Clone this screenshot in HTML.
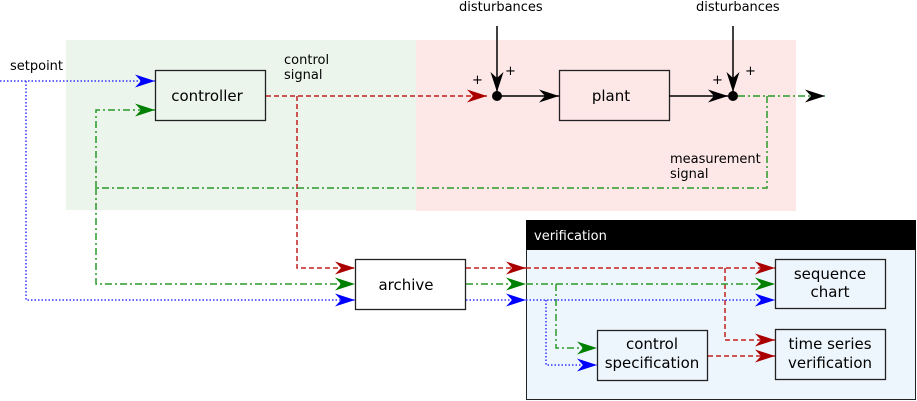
<!DOCTYPE html>
<html><head><meta charset="utf-8"><style>
html,body{margin:0;padding:0;background:#fff;}
svg{display:block;}
text{font-family:"DejaVu Sans","Liberation Sans",sans-serif;}
</style></head><body>
<svg width="917" height="401" viewBox="0 0 917 401" xmlns="http://www.w3.org/2000/svg">
<defs>
<marker id="ak" markerWidth="20" markerHeight="14" refX="20" refY="7" orient="auto" markerUnits="userSpaceOnUse"><path d="M20,7 L0,0.5 L6,7 L0,13.5 Z" fill="#000"/></marker>
<marker id="ar" markerWidth="20" markerHeight="14" refX="20" refY="7" orient="auto" markerUnits="userSpaceOnUse"><path d="M20,7 L0,0.5 L6,7 L0,13.5 Z" fill="#aa0000"/></marker>
<marker id="ag" markerWidth="20" markerHeight="14" refX="20" refY="7" orient="auto" markerUnits="userSpaceOnUse"><path d="M20,7 L0,0.5 L6,7 L0,13.5 Z" fill="#008000"/></marker>
<marker id="ab" markerWidth="20" markerHeight="14" refX="20" refY="7" orient="auto" markerUnits="userSpaceOnUse"><path d="M20,7 L0,0.5 L6,7 L0,13.5 Z" fill="#0000ff"/></marker>
</defs>
<rect x="66" y="40" width="350" height="170" fill="#ebf5ec"/>
<rect x="416" y="40" width="380" height="171" fill="#fde7e7"/>
<rect x="526.5" y="220.5" width="389" height="179" fill="#eef6fd" stroke="#222" stroke-width="1"/>
<rect x="526" y="220" width="390" height="30" fill="#000"/>
<text x="534" y="240" font-size="13" fill="#fff">verification</text>

<g stroke="#222" stroke-width="1.3">
<rect x="155.5" y="70.5" width="110" height="50" fill="#ebf5ec"/>
<rect x="559.5" y="70.5" width="110" height="50" fill="#fde7e7"/>
<rect x="355.5" y="259.5" width="110" height="50" fill="#fff"/>
<rect x="775.5" y="259.5" width="110" height="49" fill="#eef6fd"/>
<rect x="775.5" y="329.5" width="110" height="50" fill="#eef6fd"/>
<rect x="597.5" y="330.5" width="110" height="50" fill="#eef6fd"/>
</g>
<g font-size="15" fill="#000" text-anchor="middle">
<text x="207" y="101">controller</text>
<text x="611" y="101">plant</text>
<text x="406" y="290">archive</text>
<text x="830" y="279">sequence</text>
<text x="830" y="297">chart</text>
<text x="830" y="349">time series</text>
<text x="830" y="368">verification</text>
<text x="652" y="349">control</text>
<text x="652" y="368">specification</text>
</g>
<g font-size="13" fill="#000">
<text x="10" y="70">setpoint</text>
<text x="284" y="64">control</text>
<text x="284" y="79">signal</text>
<text x="670" y="163">measurement</text>
<text x="670" y="178">signal</text>
<text x="459" y="11">disturbances</text>
<text x="696" y="11">disturbances</text>
<text x="472" y="84">+</text>
<text x="505" y="75">+</text>
<text x="712" y="84">+</text>
<text x="745" y="75">+</text>
</g>

<g stroke="#000" stroke-width="1.5" fill="none">
<line x1="497" y1="26" x2="497" y2="92" marker-end="url(#ak)"/>
<line x1="733" y1="26" x2="733" y2="92" marker-end="url(#ak)"/>
<line x1="497" y1="96" x2="559" y2="96" marker-end="url(#ak)"/>
<line x1="669" y1="96" x2="728" y2="96" marker-end="url(#ak)"/>
</g>
<circle cx="497" cy="96" r="5" fill="#000"/>
<circle cx="733" cy="96" r="5" fill="#000"/>

<g stroke="#c02020" stroke-width="1.5" fill="none" stroke-dasharray="5,3">
<line x1="266" y1="96" x2="487" y2="96" marker-end="url(#ar)"/>
<polyline points="297,96 297,268 355,268" marker-end="url(#ar)"/>
<line x1="466" y1="268" x2="526" y2="268" marker-end="url(#ar)"/>
<line x1="526" y1="268" x2="775" y2="268" marker-end="url(#ar)"/>
<polyline points="725,268 725,340 775,340" marker-end="url(#ar)"/>
<line x1="708" y1="356" x2="775" y2="356" marker-end="url(#ar)"/>
</g>

<g stroke="#2a9a2a" stroke-width="1.5" fill="none" stroke-dasharray="7,3,2,3">
<line x1="738" y1="96" x2="825" y2="96" marker-end="url(#ak)"/>
<polyline points="767,96 767,188 96,188"/>
<polyline points="96,188 96,110 155,110" marker-end="url(#ag)"/>
<polyline points="96,188 96,284 355,284" marker-end="url(#ag)"/>
<line x1="466" y1="284" x2="526" y2="284" marker-end="url(#ag)"/>
<line x1="526" y1="284" x2="775" y2="284" marker-end="url(#ag)"/>
<polyline points="556,284 556,348 597,348" marker-end="url(#ag)"/>
</g>

<g stroke="#3030ff" stroke-width="1.5" fill="none" stroke-dasharray="1.5,2">
<line x1="0" y1="81" x2="155" y2="81" marker-end="url(#ab)"/>
<polyline points="26,81 26,300 355,300" marker-end="url(#ab)"/>
<line x1="466" y1="300" x2="526" y2="300" marker-end="url(#ab)"/>
<line x1="526" y1="300" x2="775" y2="300" marker-end="url(#ab)"/>
<polyline points="546,300 546,365 597,365" marker-end="url(#ab)"/>
</g>
</svg>
</body></html>
